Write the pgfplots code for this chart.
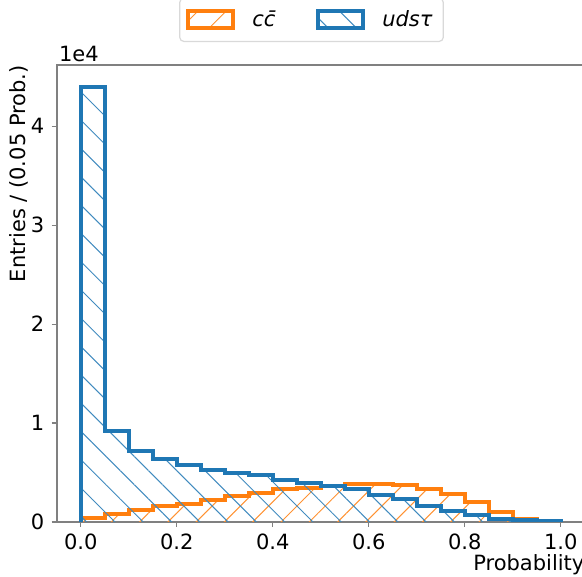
\documentclass[border=0pt]{standalone}
\usepackage{fontspec}
\setmainfont{DejaVu Sans}
\usepackage{pgfplots}
\pgfplotsset{compat=1.18}
\usetikzlibrary{patterns.meta}
\definecolor{cblue}{HTML}{1F77B4}
\definecolor{corange}{HTML}{FF7F0E}

% bin left edge, entries per 0.05 bin
\pgfplotstableread{
x y
0.00 0
0.00 440
0.05 850
0.10 1250
0.15 1600
0.20 1870
0.25 2240
0.30 2620
0.35 2960
0.40 3320
0.45 3420
0.50 3620
0.55 3800
0.60 3860
0.65 3760
0.70 3380
0.75 2830
0.80 2000
0.85 1050
0.90 340
0.95 0
1.00 0
}\charm
\pgfplotstableread{
x y
0.00 0
0.00 44000
0.05 9150
0.10 7200
0.15 6340
0.20 5750
0.25 5220
0.30 4950
0.35 4720
0.40 4200
0.45 3940
0.50 3670
0.55 3340
0.60 2770
0.65 2300
0.70 1650
0.75 1150
0.80 680
0.85 340
0.90 200
0.95 80
1.00 80
1.00 0
}\light

\begin{document}
\fontsize{10.5pt}{12.6pt}\selectfont
\begin{tikzpicture}
\begin{axis}[
  name=ax,
  scale only axis,
  width=264pt, height=228.5pt,
  xmin=-0.05, xmax=1.05,
  ymin=0, ymax=46200,
  xtick={0,0.2,0.4,0.6,0.8,1.0},
  xticklabel style={/pgf/number format/.cd, fixed, fixed zerofill, precision=1},
  ytick={0,10000,20000,30000,40000},
  yticklabels={0,1,2,3,4},
  scaled y ticks=false,
  /pgf/number format/assume math mode=true,
  tick pos=left, tick align=outside,
  major tick length=2.5pt,
  every tick/.style={black!50, line width=0.6pt},
  axis line style={black!50, line width=0.9pt},
  xlabel={Probability},
  xlabel style={at={([yshift=-16pt]rel axis cs:1,0)}, anchor=north east, inner sep=0pt},
  ylabel={Entries / (0.05 Prob.)},
  ylabel style={at={([xshift=-14.2pt]rel axis cs:0,1)}, anchor=south east, inner sep=0pt},
  legend columns=2,
  legend style={at={(0.4826,1.0503)}, anchor=south,
    draw=black!15, line width=0.6pt, rounded corners=2pt,
    inner xsep=3.3pt, inner ysep=4pt,
    /tikz/every odd column/.append style={column sep=6.5pt},
    /tikz/every even column/.append style={column sep=18pt}},
  legend image code/.code={\draw[sharp corners, #1] (0pt,-4.3pt) rectangle (22.5pt,4.3pt);},
]
\addplot[const plot, draw=corange, line width=2pt, line join=miter,
  pattern={Lines[angle=45, distance=10pt, line width=0.5pt]}, pattern color=corange!85]
  table[x=x, y=y] {\charm};
\addlegendentry{\textit{c\=c}}
\addplot[const plot, draw=cblue, line width=2pt, line join=miter,
  pattern={Lines[angle=-45, distance=10pt, line width=0.5pt]}, pattern color=cblue!85]
  table[x=x, y=y] {\light};
\addlegendentry{\textit{udsτ}}
\end{axis}
\node[anchor=south west, inner sep=0pt] at ([xshift=1pt, yshift=1.5pt]ax.north west) {1e4};
\pgfresetboundingbox
\path[use as bounding box] ([xshift=-28.35pt, yshift=-27.35pt]ax.south west)
  rectangle ([xshift=-1.35pt, yshift=32.5pt]ax.north east);
\end{tikzpicture}
\end{document}
